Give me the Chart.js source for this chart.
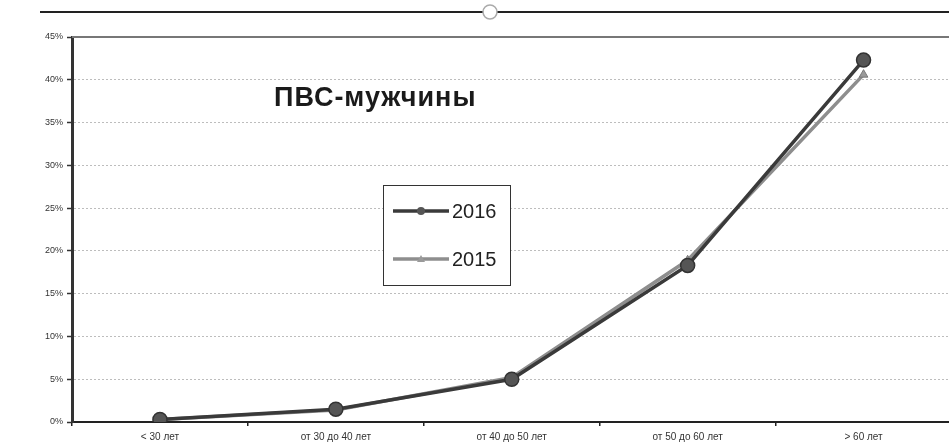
<!DOCTYPE html>
<html lang="ru">
<head>
  <meta charset="UTF-8">
  <title>ПВС-мужчины</title>
  <style>
    body { margin:0; background:#fff; overflow:hidden; }
    .wrap { position:relative; width:960px; height:444px; }
  </style>
</head>
<body>
<div class="wrap"><canvas id="chart"></canvas></div>
<script src="https://cdn.jsdelivr.net/npm/chart.js"></script>
<script>
// данные
const chartTitle = 'ПВС-мужчины';
const ageGroups = ['< 30 лет', 'от 30 до 40 лет', 'от 40 до 50 лет', 'от 50 до 60 лет', '> 60 лет'];
const seriesNames = ['2016', '2015'];
const values2016 = [0.3, 1.5, 5.0, 18.3, 42.3];
const values2015 = [0.3, 1.4, 5.2, 18.9, 40.6];
const yTicks = [0, 5, 10, 15, 20, 25, 30, 35, 40, 45];

const col2016 = '#3a3a3a', col2015 = '#8e8e8e';

// заголовок, рамка и легенда внутри области графика
const overlay = {
  id: 'overlay',
  afterDraw(chart) {
    const ctx = chart.ctx, a = chart.chartArea;
    ctx.save();
    // внешняя рамка сверху
    ctx.strokeStyle = '#222'; ctx.lineWidth = 2;
    ctx.beginPath(); ctx.moveTo(40, 12); ctx.lineTo(960, 12); ctx.stroke();
    ctx.fillStyle = '#fff'; ctx.strokeStyle = '#aaa'; ctx.lineWidth = 1.5;
    ctx.beginPath(); ctx.arc(490, 12, 7, 0, Math.PI * 2); ctx.fill(); ctx.stroke();
    // верх области графика
    ctx.strokeStyle = '#777'; ctx.lineWidth = 2;
    ctx.beginPath(); ctx.moveTo(a.left, a.top); ctx.lineTo(a.right, a.top); ctx.stroke();
    // заголовок
    ctx.fillStyle = '#1a1a1a';
    ctx.font = 'bold 27px "Liberation Sans", Arial, sans-serif';
    ctx.letterSpacing = '1px';
    ctx.textBaseline = 'middle';
    ctx.fillText(chartTitle, 274, 99);
    ctx.letterSpacing = '0px';
    // легенда
    ctx.fillStyle = '#fff'; ctx.fillRect(383, 185, 127, 100);
    ctx.strokeStyle = '#333'; ctx.lineWidth = 1;
    ctx.strokeRect(383.5, 185.5, 127, 100);
    chart.data.datasets.forEach((ds, i) => {
      const y = 211 + i * 48;
      ctx.strokeStyle = ds.borderColor; ctx.lineWidth = 3.5;
      ctx.beginPath(); ctx.moveTo(393, y); ctx.lineTo(449, y); ctx.stroke();
      ctx.fillStyle = ds.pointBackgroundColor;
      ctx.beginPath();
      if (ds.pointStyle === 'triangle') {
        ctx.moveTo(421, y - 4); ctx.lineTo(425, y + 3); ctx.lineTo(417, y + 3); ctx.closePath();
      } else {
        ctx.arc(421, y, 4, 0, Math.PI * 2);
      }
      ctx.fill();
      ctx.fillStyle = '#222';
      ctx.font = '20px "Liberation Sans", Arial, sans-serif';
      ctx.fillText(ds.label, 452, y + 1);
    });
    ctx.restore();
  }
};

new Chart(document.getElementById('chart'), {
  type: 'line',
  data: {
    labels: ageGroups,
    datasets: [
      { label: seriesNames[0], data: values2016, borderColor: col2016, borderWidth: 3.5,
        pointStyle: 'circle', pointRadius: 7, pointBackgroundColor: '#555', pointBorderColor: '#333',
        pointBorderWidth: 1.5, tension: 0 },
      { label: seriesNames[1], data: values2015, borderColor: col2015, borderWidth: 3.5,
        pointStyle: 'triangle', pointRadius: 5, pointBackgroundColor: '#9a9a9a', pointBorderColor: '#777',
        pointBorderWidth: 1, tension: 0 }
    ]
  },
  options: {
    responsive: true,
    maintainAspectRatio: false,
    animation: false,
    layout: { padding: { top: 37, right: 8, left: 0, bottom: 0 } },
    plugins: { legend: { display: false }, tooltip: { enabled: false } },
    scales: {
      x: {
        offset: true,
        grid: { offset: true, drawOnChartArea: false, drawTicks: true, tickLength: 4, color: '#222', lineWidth: 1.5 },
        border: { color: '#222', width: 2 },
        ticks: { color: '#333', font: { family: '"Liberation Sans", Arial, sans-serif', size: 10 }, padding: 5, maxRotation: 0 },
        afterFit(s) { s.height = 22; }
      },
      y: {
        min: 0, max: 45,
        afterBuildTicks(s) { s.ticks = yTicks.map(v => ({ value: v })); },
        grid: {
          color: ctx => ctx.tick && ctx.tick.value === 45 ? 'rgba(0,0,0,0)' : '#bdbdbd',
          lineWidth: 1, tickLength: 5, tickColor: '#333', tickWidth: 1.5
        },
        border: { color: '#333', width: 3, dash: [2, 2] },
        ticks: { color: '#333', font: { family: '"Liberation Sans", Arial, sans-serif', size: 9 }, padding: 4,
                 callback: v => v + '%' },
        afterFit(s) { s.width = 72; }
      }
    }
  },
  plugins: [overlay]
});
</script>
</body>
</html>
